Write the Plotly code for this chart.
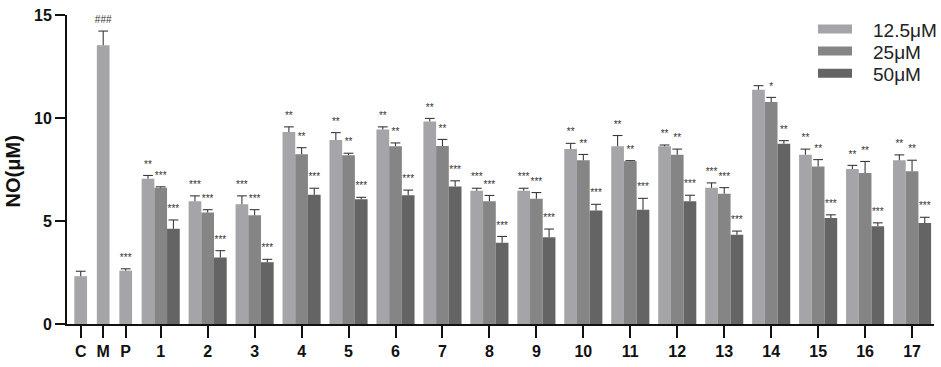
import plotly.graph_objects as go

# ---------------- data ----------------
control_labels = ["C", "M", "P"]
control_values = [2.32, 13.53, 2.59]
control_errors = [0.24, 0.69, 0.09]
control_sig = ["", "###", "***"]

compounds = [str(i) for i in range(1, 18)]
series_names = ["12.5μM", "25μM", "50μM"]

values_12_5 = [7.05, 5.96, 5.81, 9.32, 8.93, 9.44, 9.83, 6.47, 6.47, 8.49, 8.63, 8.63, 6.61, 11.37, 8.21, 7.53, 7.95]
errors_12_5 = [0.16, 0.26, 0.41, 0.25, 0.36, 0.13, 0.15, 0.12, 0.12, 0.28, 0.52, 0.06, 0.24, 0.20, 0.28, 0.17, 0.26]
sig_12_5 = ["**", "***", "***", "**", "**", "**", "**", "***", "***", "**", "**", "**", "***", "", "**", "**", "**"]

values_25 = [6.61, 5.41, 5.28, 8.24, 8.19, 8.63, 8.64, 5.96, 6.08, 7.95, 7.90, 8.21, 6.32, 10.78, 7.64, 7.33, 7.41]
errors_25 = [0.05, 0.14, 0.27, 0.32, 0.10, 0.16, 0.32, 0.28, 0.30, 0.28, 0.03, 0.28, 0.30, 0.22, 0.34, 0.56, 0.54]
sig_25 = ["***", "***", "***", "**", "**", "**", "**", "***", "***", "**", "**", "**", "***", "*", "**", "**", "**"]

values_50 = [4.62, 3.23, 3.00, 6.28, 6.05, 6.25, 6.67, 3.94, 4.21, 5.51, 5.55, 5.96, 4.33, 8.75, 5.14, 4.75, 4.90]
errors_50 = [0.43, 0.33, 0.14, 0.31, 0.10, 0.25, 0.28, 0.31, 0.40, 0.30, 0.55, 0.29, 0.18, 0.15, 0.16, 0.16, 0.28]
sig_50 = ["***", "***", "***", "***", "***", "***", "***", "***", "***", "***", "***", "***", "***", "**", "***", "***", "***"]

y_ticks = [0, 5, 10, 15]

# ---------------- layout helpers ----------------
colors = ["#a4a4a9", "#858586", "#646464"]
err_color = "#3a3a3a"
font_family = "Liberation Sans, Arial, sans-serif"

BAR_W = 12.7
CTRL_START, CTRL_STEP = 13.7, 22.5
GRP_START, GRP_STEP = 93.7, 46.96
X_RANGE = [0, 867]

ctrl_x = [CTRL_START + i * CTRL_STEP for i in range(len(control_labels))]
grp_x = [GRP_START + i * GRP_STEP for i in range(len(compounds))]

series = [
    (values_12_5, errors_12_5, sig_12_5),
    (values_25, errors_25, sig_25),
    (values_50, errors_50, sig_50),
]

fig = go.Figure()


def add_bars(xs, vals, errs, sig, color):
    fig.add_trace(go.Bar(
        x=xs, y=vals, width=BAR_W, marker=dict(color=color, line=dict(width=0)),
        error_y=dict(type="data", array=errs, arrayminus=[0] * len(errs),
                     symmetric=False, width=0, thickness=1.1, color=err_color),
        showlegend=False, hoverinfo="skip",
    ))
    tops = [v + e for v, e in zip(vals, errs)]
    fig.add_trace(go.Scatter(
        x=xs, y=tops, mode="markers+text",
        marker=dict(symbol="line-ew", size=7, line=dict(width=1.1, color=err_color)),
        text=sig, textposition="top center",
        textfont=dict(size=10, color="#333333", family=font_family),
        showlegend=False, hoverinfo="skip", cliponaxis=False,
    ))


add_bars(ctrl_x, control_values, control_errors, control_sig, colors[0])
for k, (vals, errs, sig) in enumerate(series):
    xs = [g + (k - 1) * BAR_W for g in grp_x]
    add_bars(xs, vals, errs, sig, colors[k])

# ---------------- manual legend ----------------
L, T, PW, PH = 67, 8, 867, 324


def px2paper_x(px):
    return (px - L) / PW


def py2paper_y(py):
    return (T + PH - py) / PH


shapes = []
annotations = []
row_y = [22.7, 45.7, 69.0]
for name, color, ry in zip(series_names, colors, row_y):
    shapes.append(dict(type="rect", xref="paper", yref="paper",
                       x0=px2paper_x(818), x1=px2paper_x(852),
                       y0=py2paper_y(ry + 4.7), y1=py2paper_y(ry - 4.7),
                       fillcolor=color, line=dict(width=0)))
    annotations.append(dict(xref="paper", yref="paper", x=px2paper_x(871),
                            y=py2paper_y(ry + 1.5), xanchor="left", yanchor="middle",
                            text=name, showarrow=False,
                            font=dict(size=19, color="#222222", family=font_family)))

annotations.append(dict(xref="paper", yref="paper", x=px2paper_x(13), y=py2paper_y(172),
                        text="<b>NO(μM)</b>", textangle=-90, showarrow=False,
                        xanchor="center", yanchor="middle",
                        font=dict(size=20, color="#111111", family=font_family)))

fig.update_layout(
    width=941, height=367,
    margin=dict(l=L, r=941 - L - PW, t=T, b=367 - T - PH),
    paper_bgcolor="white", plot_bgcolor="white",
    barmode="overlay",
    showlegend=False,
    shapes=shapes, annotations=annotations,
    font=dict(family=font_family),
)

fig.update_xaxes(
    range=X_RANGE, tickmode="array",
    tickvals=ctrl_x + grp_x, ticktext=[f"<b>{t}</b>" for t in control_labels + compounds],
    ticks="outside", ticklen=12, tickwidth=2, tickcolor="#111111",
    showline=True, linewidth=2, linecolor="#111111",
    showgrid=False, zeroline=False, ticklabeloverflow="allow",
    tickfont=dict(size=16, color="#111111", family=font_family),
)
fig.update_yaxes(
    range=[0, 15], tickmode="array", tickvals=y_ticks,
    ticktext=[f"<b>{t}</b>" for t in y_ticks],
    ticks="outside", ticklen=10, tickwidth=2, tickcolor="#111111",
    showline=True, linewidth=2, linecolor="#111111",
    showgrid=False, zeroline=False, ticklabeloverflow="allow",
    tickfont=dict(size=16, color="#111111", family=font_family),
)

fig.write_html("out.html", config={"displayModeBar": False},
               post_script="document.body.style.margin='0';document.body.style.overflow='hidden';")
